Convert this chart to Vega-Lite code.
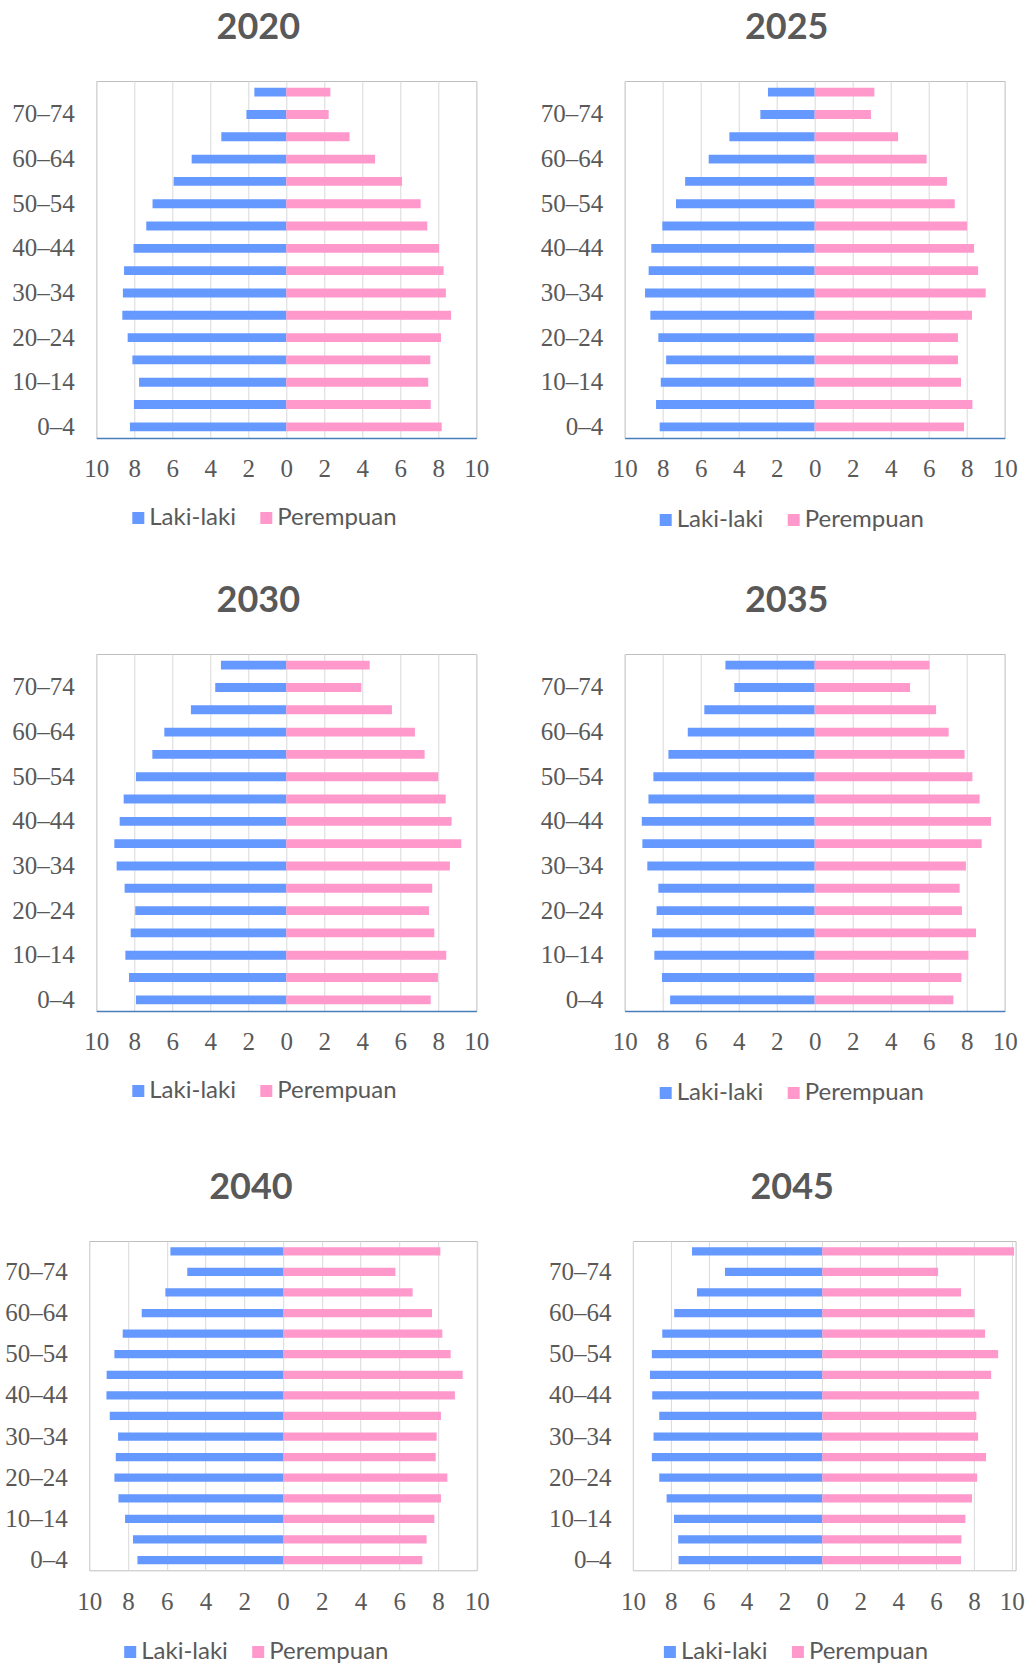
{
  "$schema": "https://vega.github.io/schema/vega-lite/v6.json",
  "background": "white",
  "padding": {"left": 4, "top": 9, "right": 5, "bottom": 2},
  "datasets": {
    "pop": [
      {"year":2020,"age":"0–4","sex":"Laki-laki","value":-8.23},{"year":2020,"age":"5–9","sex":"Laki-laki","value":-8.02},{"year":2020,"age":"10–14","sex":"Laki-laki","value":-7.75},{"year":2020,"age":"15–19","sex":"Laki-laki","value":-8.1},{"year":2020,"age":"20–24","sex":"Laki-laki","value":-8.35},{"year":2020,"age":"25–29","sex":"Laki-laki","value":-8.63},{"year":2020,"age":"30–34","sex":"Laki-laki","value":-8.6},{"year":2020,"age":"35–39","sex":"Laki-laki","value":-8.54},{"year":2020,"age":"40–44","sex":"Laki-laki","value":-8.04},{"year":2020,"age":"45–49","sex":"Laki-laki","value":-7.37},{"year":2020,"age":"50–54","sex":"Laki-laki","value":-7.04},{"year":2020,"age":"55–59","sex":"Laki-laki","value":-5.93},{"year":2020,"age":"60–64","sex":"Laki-laki","value":-4.98},{"year":2020,"age":"65–69","sex":"Laki-laki","value":-3.42},{"year":2020,"age":"70–74","sex":"Laki-laki","value":-2.1},{"year":2020,"age":"75+","sex":"Laki-laki","value":-1.68},
      {"year":2020,"age":"0–4","sex":"Perempuan","value":8.18},{"year":2020,"age":"5–9","sex":"Perempuan","value":7.6},{"year":2020,"age":"10–14","sex":"Perempuan","value":7.47},{"year":2020,"age":"15–19","sex":"Perempuan","value":7.58},{"year":2020,"age":"20–24","sex":"Perempuan","value":8.14},{"year":2020,"age":"25–29","sex":"Perempuan","value":8.67},{"year":2020,"age":"30–34","sex":"Perempuan","value":8.4},{"year":2020,"age":"35–39","sex":"Perempuan","value":8.28},{"year":2020,"age":"40–44","sex":"Perempuan","value":8.04},{"year":2020,"age":"45–49","sex":"Perempuan","value":7.42},{"year":2020,"age":"50–54","sex":"Perempuan","value":7.07},{"year":2020,"age":"55–59","sex":"Perempuan","value":6.09},{"year":2020,"age":"60–64","sex":"Perempuan","value":4.67},{"year":2020,"age":"65–69","sex":"Perempuan","value":3.33},{"year":2020,"age":"70–74","sex":"Perempuan","value":2.23},{"year":2020,"age":"75+","sex":"Perempuan","value":2.32},
      {"year":2025,"age":"0–4","sex":"Laki-laki","value":-8.16},{"year":2025,"age":"5–9","sex":"Laki-laki","value":-8.35},{"year":2025,"age":"10–14","sex":"Laki-laki","value":-8.1},{"year":2025,"age":"15–19","sex":"Laki-laki","value":-7.82},{"year":2025,"age":"20–24","sex":"Laki-laki","value":-8.23},{"year":2025,"age":"25–29","sex":"Laki-laki","value":-8.65},{"year":2025,"age":"30–34","sex":"Laki-laki","value":-8.93},{"year":2025,"age":"35–39","sex":"Laki-laki","value":-8.74},{"year":2025,"age":"40–44","sex":"Laki-laki","value":-8.6},{"year":2025,"age":"45–49","sex":"Laki-laki","value":-8.02},{"year":2025,"age":"50–54","sex":"Laki-laki","value":-7.3},{"year":2025,"age":"55–59","sex":"Laki-laki","value":-6.82},{"year":2025,"age":"60–64","sex":"Laki-laki","value":-5.58},{"year":2025,"age":"65–69","sex":"Laki-laki","value":-4.49},{"year":2025,"age":"70–74","sex":"Laki-laki","value":-2.86},{"year":2025,"age":"75+","sex":"Laki-laki","value":-2.46},
      {"year":2025,"age":"0–4","sex":"Perempuan","value":7.86},{"year":2025,"age":"5–9","sex":"Perempuan","value":8.3},{"year":2025,"age":"10–14","sex":"Perempuan","value":7.7},{"year":2025,"age":"15–19","sex":"Perempuan","value":7.54},{"year":2025,"age":"20–24","sex":"Perempuan","value":7.54},{"year":2025,"age":"25–29","sex":"Perempuan","value":8.28},{"year":2025,"age":"30–34","sex":"Perempuan","value":9.0},{"year":2025,"age":"35–39","sex":"Perempuan","value":8.6},{"year":2025,"age":"40–44","sex":"Perempuan","value":8.39},{"year":2025,"age":"45–49","sex":"Perempuan","value":8.02},{"year":2025,"age":"50–54","sex":"Perempuan","value":7.37},{"year":2025,"age":"55–59","sex":"Perempuan","value":6.96},{"year":2025,"age":"60–64","sex":"Perempuan","value":5.89},{"year":2025,"age":"65–69","sex":"Perempuan","value":4.39},{"year":2025,"age":"70–74","sex":"Perempuan","value":2.96},{"year":2025,"age":"75+","sex":"Perempuan","value":3.14},
      {"year":2030,"age":"0–4","sex":"Laki-laki","value":-7.91},{"year":2030,"age":"5–9","sex":"Laki-laki","value":-8.28},{"year":2030,"age":"10–14","sex":"Laki-laki","value":-8.47},{"year":2030,"age":"15–19","sex":"Laki-laki","value":-8.19},{"year":2030,"age":"20–24","sex":"Laki-laki","value":-7.95},{"year":2030,"age":"25–29","sex":"Laki-laki","value":-8.51},{"year":2030,"age":"30–34","sex":"Laki-laki","value":-8.93},{"year":2030,"age":"35–39","sex":"Laki-laki","value":-9.05},{"year":2030,"age":"40–44","sex":"Laki-laki","value":-8.77},{"year":2030,"age":"45–49","sex":"Laki-laki","value":-8.56},{"year":2030,"age":"50–54","sex":"Laki-laki","value":-7.91},{"year":2030,"age":"55–59","sex":"Laki-laki","value":-7.05},{"year":2030,"age":"60–64","sex":"Laki-laki","value":-6.42},{"year":2030,"age":"65–69","sex":"Laki-laki","value":-5.02},{"year":2030,"age":"70–74","sex":"Laki-laki","value":-3.74},{"year":2030,"age":"75+","sex":"Laki-laki","value":-3.44},
      {"year":2030,"age":"0–4","sex":"Perempuan","value":7.6},{"year":2030,"age":"5–9","sex":"Perempuan","value":7.98},{"year":2030,"age":"10–14","sex":"Perempuan","value":8.42},{"year":2030,"age":"15–19","sex":"Perempuan","value":7.79},{"year":2030,"age":"20–24","sex":"Perempuan","value":7.51},{"year":2030,"age":"25–29","sex":"Perempuan","value":7.68},{"year":2030,"age":"30–34","sex":"Perempuan","value":8.61},{"year":2030,"age":"35–39","sex":"Perempuan","value":9.21},{"year":2030,"age":"40–44","sex":"Perempuan","value":8.7},{"year":2030,"age":"45–49","sex":"Perempuan","value":8.39},{"year":2030,"age":"50–54","sex":"Perempuan","value":8.0},{"year":2030,"age":"55–59","sex":"Perempuan","value":7.28},{"year":2030,"age":"60–64","sex":"Perempuan","value":6.77},{"year":2030,"age":"65–69","sex":"Perempuan","value":5.56},{"year":2030,"age":"70–74","sex":"Perempuan","value":3.95},{"year":2030,"age":"75+","sex":"Perempuan","value":4.39},
      {"year":2035,"age":"0–4","sex":"Laki-laki","value":-7.61},{"year":2035,"age":"5–9","sex":"Laki-laki","value":-8.04},{"year":2035,"age":"10–14","sex":"Laki-laki","value":-8.44},{"year":2035,"age":"15–19","sex":"Laki-laki","value":-8.56},{"year":2035,"age":"20–24","sex":"Laki-laki","value":-8.32},{"year":2035,"age":"25–29","sex":"Laki-laki","value":-8.23},{"year":2035,"age":"30–34","sex":"Laki-laki","value":-8.81},{"year":2035,"age":"35–39","sex":"Laki-laki","value":-9.07},{"year":2035,"age":"40–44","sex":"Laki-laki","value":-9.1},{"year":2035,"age":"45–49","sex":"Laki-laki","value":-8.75},{"year":2035,"age":"50–54","sex":"Laki-laki","value":-8.49},{"year":2035,"age":"55–59","sex":"Laki-laki","value":-7.7},{"year":2035,"age":"60–64","sex":"Laki-laki","value":-6.68},{"year":2035,"age":"65–69","sex":"Laki-laki","value":-5.81},{"year":2035,"age":"70–74","sex":"Laki-laki","value":-4.23},{"year":2035,"age":"75+","sex":"Laki-laki","value":-4.7},
      {"year":2035,"age":"0–4","sex":"Perempuan","value":7.3},{"year":2035,"age":"5–9","sex":"Perempuan","value":7.72},{"year":2035,"age":"10–14","sex":"Perempuan","value":8.09},{"year":2035,"age":"15–19","sex":"Perempuan","value":8.49},{"year":2035,"age":"20–24","sex":"Perempuan","value":7.75},{"year":2035,"age":"25–29","sex":"Perempuan","value":7.63},{"year":2035,"age":"30–34","sex":"Perempuan","value":7.96},{"year":2035,"age":"35–39","sex":"Perempuan","value":8.79},{"year":2035,"age":"40–44","sex":"Perempuan","value":9.28},{"year":2035,"age":"45–49","sex":"Perempuan","value":8.68},{"year":2035,"age":"50–54","sex":"Perempuan","value":8.3},{"year":2035,"age":"55–59","sex":"Perempuan","value":7.89},{"year":2035,"age":"60–64","sex":"Perempuan","value":7.05},{"year":2035,"age":"65–69","sex":"Perempuan","value":6.39},{"year":2035,"age":"70–74","sex":"Perempuan","value":5.02},{"year":2035,"age":"75+","sex":"Perempuan","value":6.04},
      {"year":2040,"age":"0–4","sex":"Laki-laki","value":-7.51},{"year":2040,"age":"5–9","sex":"Laki-laki","value":-7.74},{"year":2040,"age":"10–14","sex":"Laki-laki","value":-8.15},{"year":2040,"age":"15–19","sex":"Laki-laki","value":-8.49},{"year":2040,"age":"20–24","sex":"Laki-laki","value":-8.7},{"year":2040,"age":"25–29","sex":"Laki-laki","value":-8.63},{"year":2040,"age":"30–34","sex":"Laki-laki","value":-8.51},{"year":2040,"age":"35–39","sex":"Laki-laki","value":-8.94},{"year":2040,"age":"40–44","sex":"Laki-laki","value":-9.11},{"year":2040,"age":"45–49","sex":"Laki-laki","value":-9.1},{"year":2040,"age":"50–54","sex":"Laki-laki","value":-8.7},{"year":2040,"age":"55–59","sex":"Laki-laki","value":-8.27},{"year":2040,"age":"60–64","sex":"Laki-laki","value":-7.29},{"year":2040,"age":"65–69","sex":"Laki-laki","value":-6.07},{"year":2040,"age":"70–74","sex":"Laki-laki","value":-4.94},{"year":2040,"age":"75+","sex":"Laki-laki","value":-5.81},
      {"year":2040,"age":"0–4","sex":"Perempuan","value":7.19},{"year":2040,"age":"5–9","sex":"Perempuan","value":7.41},{"year":2040,"age":"10–14","sex":"Perempuan","value":7.81},{"year":2040,"age":"15–19","sex":"Perempuan","value":8.15},{"year":2040,"age":"20–24","sex":"Perempuan","value":8.48},{"year":2040,"age":"25–29","sex":"Perempuan","value":7.88},{"year":2040,"age":"30–34","sex":"Perempuan","value":7.93},{"year":2040,"age":"35–39","sex":"Perempuan","value":8.15},{"year":2040,"age":"40–44","sex":"Perempuan","value":8.87},{"year":2040,"age":"45–49","sex":"Perempuan","value":9.27},{"year":2040,"age":"50–54","sex":"Perempuan","value":8.65},{"year":2040,"age":"55–59","sex":"Perempuan","value":8.22},{"year":2040,"age":"60–64","sex":"Perempuan","value":7.69},{"year":2040,"age":"65–69","sex":"Perempuan","value":6.69},{"year":2040,"age":"70–74","sex":"Perempuan","value":5.8},{"year":2040,"age":"75+","sex":"Perempuan","value":8.12},
      {"year":2045,"age":"0–4","sex":"Laki-laki","value":-7.59},{"year":2045,"age":"5–9","sex":"Laki-laki","value":-7.61},{"year":2045,"age":"10–14","sex":"Laki-laki","value":-7.83},{"year":2045,"age":"15–19","sex":"Laki-laki","value":-8.22},{"year":2045,"age":"20–24","sex":"Laki-laki","value":-8.61},{"year":2045,"age":"25–29","sex":"Laki-laki","value":-9.0},{"year":2045,"age":"30–34","sex":"Laki-laki","value":-8.91},{"year":2045,"age":"35–39","sex":"Laki-laki","value":-8.61},{"year":2045,"age":"40–44","sex":"Laki-laki","value":-8.98},{"year":2045,"age":"45–49","sex":"Laki-laki","value":-9.1},{"year":2045,"age":"50–54","sex":"Laki-laki","value":-9.0},{"year":2045,"age":"55–59","sex":"Laki-laki","value":-8.45},{"year":2045,"age":"60–64","sex":"Laki-laki","value":-7.82},{"year":2045,"age":"65–69","sex":"Laki-laki","value":-6.62},{"year":2045,"age":"70–74","sex":"Laki-laki","value":-5.14},{"year":2045,"age":"75+","sex":"Laki-laki","value":-6.88},
      {"year":2045,"age":"0–4","sex":"Perempuan","value":7.32},{"year":2045,"age":"5–9","sex":"Perempuan","value":7.34},{"year":2045,"age":"10–14","sex":"Perempuan","value":7.55},{"year":2045,"age":"15–19","sex":"Perempuan","value":7.9},{"year":2045,"age":"20–24","sex":"Perempuan","value":8.17},{"year":2045,"age":"25–29","sex":"Perempuan","value":8.64},{"year":2045,"age":"30–34","sex":"Perempuan","value":8.22},{"year":2045,"age":"35–39","sex":"Perempuan","value":8.13},{"year":2045,"age":"40–44","sex":"Perempuan","value":8.26},{"year":2045,"age":"45–49","sex":"Perempuan","value":8.91},{"year":2045,"age":"50–54","sex":"Perempuan","value":9.28},{"year":2045,"age":"55–59","sex":"Perempuan","value":8.59},{"year":2045,"age":"60–64","sex":"Perempuan","value":8.03},{"year":2045,"age":"65–69","sex":"Perempuan","value":7.32},{"year":2045,"age":"70–74","sex":"Perempuan","value":6.11},{"year":2045,"age":"75+","sex":"Perempuan","value":10.12}
    ]
  },
  "center": true,
  "spacing": 63,
  "resolve": {"scale": {"color": "independent"}, "legend": {"color": "independent"}},
  "vconcat": [
    {
      "spacing": 49,
      "resolve": {"scale": {"color": "independent"}, "legend": {"color": "independent"}},
      "vconcat": [
        {
          "bounds": "flush",
          "spacing": 148.4,
          "resolve": {"scale": {"color": "independent"}, "legend": {"color": "independent"}},
          "hconcat": [
            {
              "width": 380, "height": 357,
              "title": {"text": "2020", "dx": -28},
              "data": {"name": "pop"},
              "transform": [{"filter": "datum.year == 2020"}],
              "mark": {"type": "bar"},
              "encoding": {
                "y": {"field": "age", "type": "nominal", "sort": ["75+","70–74","65–69","60–64","55–59","50–54","45–49","40–44","35–39","30–34","25–29","20–24","15–19","10–14","5–9","0–4"], "scale": {"paddingInner": 0.6, "paddingOuter": 0.3}, "axis": {"values": ["70–74","60–64","50–54","40–44","30–34","20–24","10–14","0–4"], "title": null}},
                "x": {"field": "value", "type": "quantitative", "stack": null, "scale": {"domain": [-10, 10], "nice": false, "zero": false}, "axis": {"values": [-10,-8,-6,-4,-2,0,2,4,6,8,10], "labelExpr": "abs(datum.value)", "title": null}},
                "color": {"field": "sex", "type": "nominal", "scale": {"domain": ["Laki-laki","Perempuan"], "range": ["#6699FF","#FF99CC"]}, "legend": {"orient": "none", "direction": "horizontal", "title": null, "legendX": 30, "legendY": 425}}
              }
            },
            {
              "width": 380, "height": 357,
              "title": {"text": "2025", "dx": -28},
              "data": {"name": "pop"},
              "transform": [{"filter": "datum.year == 2025"}],
              "mark": {"type": "bar"},
              "encoding": {
                "y": {"field": "age", "type": "nominal", "sort": ["75+","70–74","65–69","60–64","55–59","50–54","45–49","40–44","35–39","30–34","25–29","20–24","15–19","10–14","5–9","0–4"], "scale": {"paddingInner": 0.6, "paddingOuter": 0.3}, "axis": {"values": ["70–74","60–64","50–54","40–44","30–34","20–24","10–14","0–4"], "title": null}},
                "x": {"field": "value", "type": "quantitative", "stack": null, "scale": {"domain": [-10, 10], "nice": false, "zero": false}, "axis": {"values": [-10,-8,-6,-4,-2,0,2,4,6,8,10], "labelExpr": "abs(datum.value)", "title": null}},
                "color": {"field": "sex", "type": "nominal", "scale": {"domain": ["Laki-laki","Perempuan"], "range": ["#6699FF","#FF99CC"]}, "legend": {"orient": "none", "direction": "horizontal", "title": null, "legendX": 29, "legendY": 427}}
              }
            }
          ]
        },
        {
          "bounds": "flush",
          "spacing": 148.4,
          "resolve": {"scale": {"color": "independent"}, "legend": {"color": "independent"}},
          "hconcat": [
            {
              "width": 380, "height": 357,
              "title": {"text": "2030", "dx": -28},
              "data": {"name": "pop"},
              "transform": [{"filter": "datum.year == 2030"}],
              "mark": {"type": "bar"},
              "encoding": {
                "y": {"field": "age", "type": "nominal", "sort": ["75+","70–74","65–69","60–64","55–59","50–54","45–49","40–44","35–39","30–34","25–29","20–24","15–19","10–14","5–9","0–4"], "scale": {"paddingInner": 0.6, "paddingOuter": 0.3}, "axis": {"values": ["70–74","60–64","50–54","40–44","30–34","20–24","10–14","0–4"], "title": null}},
                "x": {"field": "value", "type": "quantitative", "stack": null, "scale": {"domain": [-10, 10], "nice": false, "zero": false}, "axis": {"values": [-10,-8,-6,-4,-2,0,2,4,6,8,10], "labelExpr": "abs(datum.value)", "title": null}},
                "color": {"field": "sex", "type": "nominal", "scale": {"domain": ["Laki-laki","Perempuan"], "range": ["#6699FF","#FF99CC"]}, "legend": {"orient": "none", "direction": "horizontal", "title": null, "legendX": 30, "legendY": 425}}
              }
            },
            {
              "width": 380, "height": 357,
              "title": {"text": "2035", "dx": -28},
              "data": {"name": "pop"},
              "transform": [{"filter": "datum.year == 2035"}],
              "mark": {"type": "bar"},
              "encoding": {
                "y": {"field": "age", "type": "nominal", "sort": ["75+","70–74","65–69","60–64","55–59","50–54","45–49","40–44","35–39","30–34","25–29","20–24","15–19","10–14","5–9","0–4"], "scale": {"paddingInner": 0.6, "paddingOuter": 0.3}, "axis": {"values": ["70–74","60–64","50–54","40–44","30–34","20–24","10–14","0–4"], "title": null}},
                "x": {"field": "value", "type": "quantitative", "stack": null, "scale": {"domain": [-10, 10], "nice": false, "zero": false}, "axis": {"values": [-10,-8,-6,-4,-2,0,2,4,6,8,10], "labelExpr": "abs(datum.value)", "title": null}},
                "color": {"field": "sex", "type": "nominal", "scale": {"domain": ["Laki-laki","Perempuan"], "range": ["#6699FF","#FF99CC"]}, "legend": {"orient": "none", "direction": "horizontal", "title": null, "legendX": 29, "legendY": 427}}
              }
            }
          ]
        }
      ]
    },
    {
      "bounds": "flush",
      "spacing": 155.7,
      "resolve": {"scale": {"color": "independent"}, "legend": {"color": "independent"}},
      "hconcat": [
        {
          "width": 387.6, "height": 329.3,
          "title": {"text": "2040", "dx": -32},
          "data": {"name": "pop"},
          "transform": [{"filter": "datum.year == 2040"}],
          "mark": {"type": "bar"},
          "encoding": {
            "y": {"field": "age", "type": "nominal", "sort": ["75+","70–74","65–69","60–64","55–59","50–54","45–49","40–44","35–39","30–34","25–29","20–24","15–19","10–14","5–9","0–4"], "scale": {"paddingInner": 0.6, "paddingOuter": 0.3}, "axis": {"values": ["70–74","60–64","50–54","40–44","30–34","20–24","10–14","0–4"], "title": null}},
            "x": {"field": "value", "type": "quantitative", "stack": null, "scale": {"domain": [-10, 10], "nice": false, "zero": false}, "axis": {"values": [-10,-8,-6,-4,-2,0,2,4,6,8,10], "labelExpr": "abs(datum.value)", "title": null, "domain": false, "labelPadding": 19}},
            "color": {"field": "sex", "type": "nominal", "scale": {"domain": ["Laki-laki","Perempuan"], "range": ["#6699FF","#FF99CC"]}, "legend": {"orient": "none", "direction": "horizontal", "title": null, "legendX": 29, "legendY": 399}}
          }
        },
        {
          "width": 382.7, "height": 329.3,
          "title": {"text": "2045", "dx": -32},
          "data": {"name": "pop"},
          "transform": [{"filter": "datum.year == 2045"}],
          "mark": {"type": "bar"},
          "encoding": {
            "y": {"field": "age", "type": "nominal", "sort": ["75+","70–74","65–69","60–64","55–59","50–54","45–49","40–44","35–39","30–34","25–29","20–24","15–19","10–14","5–9","0–4"], "scale": {"paddingInner": 0.6, "paddingOuter": 0.3}, "axis": {"values": ["70–74","60–64","50–54","40–44","30–34","20–24","10–14","0–4"], "title": null}},
            "x": {"field": "value", "type": "quantitative", "stack": null, "scale": {"domain": [-10, 10.2], "nice": false, "zero": false}, "axis": {"values": [-10,-8,-6,-4,-2,0,2,4,6,8,10], "labelExpr": "abs(datum.value)", "title": null, "domain": false, "labelPadding": 19}},
            "color": {"field": "sex", "type": "nominal", "scale": {"domain": ["Laki-laki","Perempuan"], "range": ["#6699FF","#FF99CC"]}, "legend": {"orient": "none", "direction": "horizontal", "title": null, "legendX": 25, "legendY": 399}}
          }
        }
      ]
    }
  ],
  "config": {
    "view": {"stroke": "#BFBFBF", "strokeWidth": 1},
    "axis": {"labelFont": "Liberation Serif", "labelFontSize": 25, "labelColor": "#595959", "ticks": false, "labelOverlap": false, "labelFlush": false, "gridColor": "#D9D9D9", "gridWidth": 1},
    "axisX": {"grid": true, "domainColor": "#4A7EBB", "domainWidth": 1.5, "labelPadding": 18},
    "axisY": {"grid": false, "domain": false, "labelPadding": 22},
    "title": {"font": "Lato", "fontSize": 36, "fontWeight": "bold", "color": "#595959", "baseline": "alphabetic", "offset": 34, "anchor": "middle", "frame": "group"},
    "legend": {"labelFont": "Lato", "labelFontSize": 24, "labelColor": "#595959", "symbolType": "square", "symbolSize": 144, "symbolStrokeWidth": 0, "labelOffset": -1, "columnPadding": 18, "padding": 0}
  }
}
